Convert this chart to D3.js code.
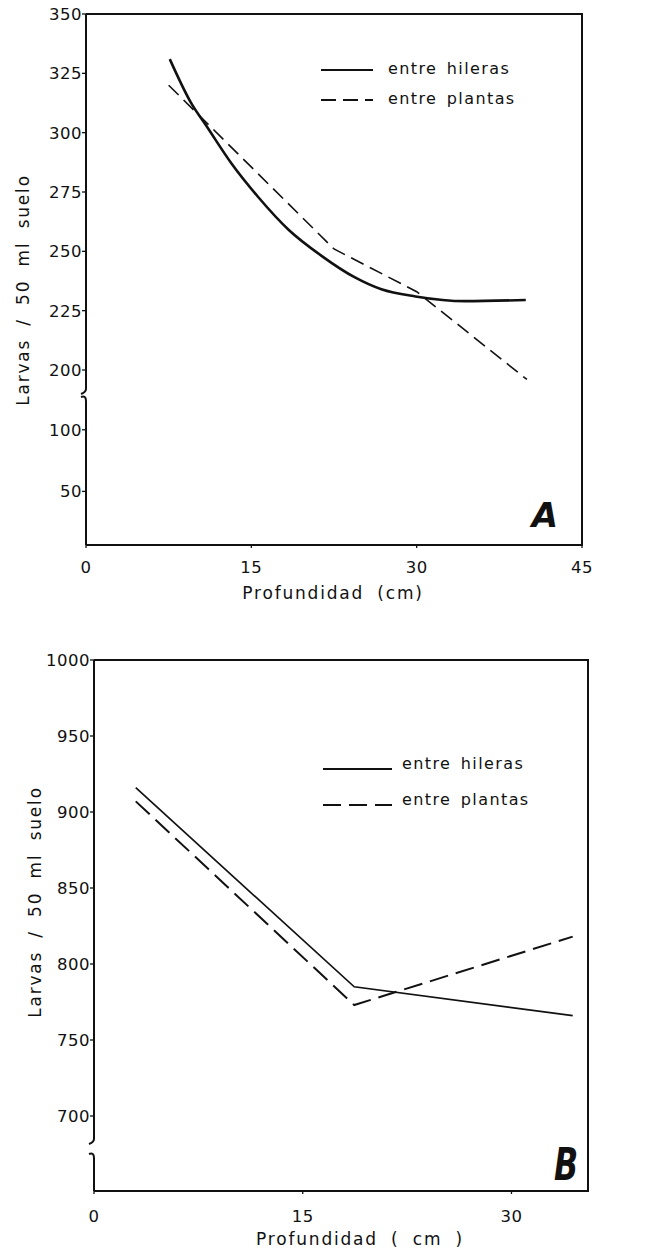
<!DOCTYPE html>
<html>
<head>
<meta charset="utf-8">
<script src="https://cdn.jsdelivr.net/npm/d3@7"></script>
<style>
  body { margin: 0; background: #fff; }
  svg { display: block; }
  text { font-family: "DejaVu Sans", sans-serif; fill: #111; }
  .tick-label { font-size: 16.5px; letter-spacing: 0.5px; }
  .axis-title { font-size: 17px; letter-spacing: 1.8px; word-spacing: 6px; }
  .legend-label { font-size: 16px; letter-spacing: 1.4px; word-spacing: 3px; }
  .panel-letter { font-size: 34px; font-weight: bold; font-style: italic; }
</style>
</head>
<body>
<div id="chart"></div>
<script>
// Panel A: depth (cm) vs larvae per 50 ml soil
var depthA_hileras  = [7.6, 9.6, 10.9, 13.2, 15.6, 18.4, 21.4, 24.4, 26.8, 29.9, 34.4, 39.9];
var larvasA_hileras = [331, 312, 303, 287, 273, 259, 248, 239, 234, 231, 229, 229.5];
var depthA_plantas  = [7.5, 22.5, 30, 40];
var larvasA_plantas = [320, 251, 233, 196];
var yTicksA_upper = [200, 225, 250, 275, 300, 325, 350];
var yTicksA_lower = [50, 100];
var xTicksA = [0, 15, 30, 45];

// Panel B
var depthB_hileras  = [3, 18.7, 34.4];
var larvasB_hileras = [916, 785, 766];
var depthB_plantas  = [3, 18.7, 34.4];
var larvasB_plantas = [907, 773, 818];
var yTicksB = [700, 750, 800, 850, 900, 950, 1000];
var xTicksB = [0, 15, 30];

var seriesNames = ["entre hileras", "entre plantas"];
var xTitleA = "Profundidad (cm)";
var xTitleB = "Profundidad ( cm )";
var yTitle = "Larvas / 50 ml suelo";

var W = 645, H = 1250;
var svg = d3.select("#chart").append("svg").attr("width", W).attr("height", H);

function zip(xs, ys) { return xs.map(function(x, i) { return [x, ys[i]]; }); }

// Draws one panel with a broken y axis (upper scale + lower scale).
function drawPanel(p) {
    var g = svg.append("g");
    var x = d3.scaleLinear().domain(p.xDomain).range([p.left, p.right]);
    var yU = d3.scaleLinear().domain(p.yUpperDomain).range(p.yUpperRange);
    var yL = d3.scaleLinear().domain(p.yLowerDomain).range(p.yLowerRange);

    // frame: top, right, bottom
    g.append("path")
        .attr("d", "M" + p.left + "," + p.top + "H" + p.right + "V" + p.bottom + "H" + p.left)
        .attr("fill", "none").attr("stroke", "#111").attr("stroke-width", 2);

    // broken left axis
    var bt = p.breakTop, bb = p.breakBottom, L = p.left;
    g.append("path")
        .attr("d", "M" + L + "," + p.top + "V" + (bt - 3) + "Q" + L + "," + bt + " " + (L - 5) + "," + (bt + 2))
        .attr("fill", "none").attr("stroke", "#111").attr("stroke-width", 2);
    g.append("path")
        .attr("d", "M" + (L - 5) + "," + (bb - 1) + "Q" + L + "," + (bb - 3) + " " + L + "," + (bb + 3) + "V" + p.bottom)
        .attr("fill", "none").attr("stroke", "#111").attr("stroke-width", 2);

    // y ticks
    function yTicks(scale, values) {
        var t = g.append("g").selectAll("g").data(values).enter().append("g")
            .attr("transform", function(d) { return "translate(0," + scale(d) + ")"; });
        t.append("line").attr("x1", L - 4).attr("x2", L).attr("stroke", "#111").attr("stroke-width", 1.3);
        t.append("text").attr("class", "tick-label")
            .attr("x", L - 4).attr("dy", "0.36em").attr("text-anchor", "end")
            .text(function(d) { return d; });
    }
    yTicks(yU, p.yTicksUpper);
    if (p.yTicksLower) yTicks(yL, p.yTicksLower);

    // x ticks
    var xt = g.append("g").selectAll("g").data(p.xTicks).enter().append("g")
        .attr("transform", function(d) { return "translate(" + x(d) + "," + p.bottom + ")"; });
    xt.append("line").attr("y1", 0).attr("y2", 3).attr("stroke", "#111").attr("stroke-width", 1.3);
    xt.append("text").attr("class", "tick-label")
        .attr("y", p.xTickBaseline - p.bottom).attr("text-anchor", "middle")
        .text(function(d) { return d; });

    // titles
    g.append("text").attr("class", "axis-title")
        .attr("x", p.xTitlePos[0]).attr("y", p.xTitlePos[1]).attr("text-anchor", "middle")
        .text(p.xTitle);
    g.append("text").attr("class", "axis-title")
        .attr("transform", "translate(" + p.yTitlePos[0] + "," + p.yTitlePos[1] + ") rotate(-90)")
        .attr("text-anchor", "middle").attr("dy", "0.36em")
        .text(yTitle);

    // series
    var line = d3.line()
        .x(function(d) { return x(d[0]); })
        .y(function(d) { return yU(d[1]); })
        .curve(p.curve);
    g.append("path").datum(p.solid).attr("d", line)
        .attr("fill", "none").attr("stroke", "#111").attr("stroke-width", p.solidWidth);
    g.append("path").datum(p.dashed).attr("d", d3.line()
            .x(function(d) { return x(d[0]); })
            .y(function(d) { return yU(d[1]); }))
        .attr("fill", "none").attr("stroke", "#111").attr("stroke-width", p.dashWidth)
        .attr("stroke-dasharray", p.dash);

    // legend
    var lg = p.legend;
    seriesNames.forEach(function(name, i) {
        var ly = lg.y + i * lg.dy;
        g.append("line")
            .attr("x1", lg.x).attr("x2", lg.x + lg.len).attr("y1", ly).attr("y2", ly)
            .attr("stroke", "#111").attr("stroke-width", i == 0 ? 2 : 1.8)
            .attr("stroke-dasharray", i == 0 ? null : lg.dash);
        g.append("text").attr("class", "legend-label")
            .attr("x", lg.x + lg.len + lg.gap).attr("y", ly + lg.textDy)
            .text(name);
    });

    // panel letter
    g.append("text").attr("class", "panel-letter")
        .attr("transform", "translate(" + p.letterPos[0] + "," + p.letterPos[1] + ") scale(" + p.letterScale + ",1)")
        .attr("text-anchor", "middle")
        .style("font-size", p.letterSize + "px")
        .text(p.letter);
}

drawPanel({
    left: 86, right: 582, top: 14, bottom: 545,
    breakTop: 392, breakBottom: 398,
    xDomain: [0, 45],
    yUpperDomain: [200, 350], yUpperRange: [370, 14],
    yLowerDomain: [0, 125], yLowerRange: [553, 399],
    yTicksUpper: yTicksA_upper, yTicksLower: yTicksA_lower,
    xTicks: xTicksA, xTickBaseline: 573,
    xTitle: xTitleA, xTitlePos: [333, 599],
    yTitlePos: [23, 290],
    solid: zip(depthA_hileras, larvasA_hileras), solidWidth: 2.6,
    dashed: zip(depthA_plantas, larvasA_plantas), dashWidth: 1.6, dash: "14,7",
    curve: d3.curveMonotoneX,
    legend: { x: 321, y: 70, dy: 30, len: 52, gap: 15, textDy: 4, dash: "15,7" },
    letter: "A", letterPos: [545, 527], letterSize: 34, letterScale: 1
});

drawPanel({
    left: 94, right: 588, top: 660, bottom: 1191,
    breakTop: 1142, breakBottom: 1155,
    xDomain: [0, 35.5],
    yUpperDomain: [700, 1000], yUpperRange: [1116, 660],
    yLowerDomain: [0, 24], yLowerRange: [1191, 1155],
    yTicksUpper: yTicksB, yTicksLower: null,
    xTicks: xTicksB, xTickBaseline: 1222,
    xTitle: xTitleB, xTitlePos: [360, 1245],
    yTitlePos: [35, 902],
    solid: zip(depthB_hileras, larvasB_hileras), solidWidth: 1.7,
    dashed: zip(depthB_plantas, larvasB_plantas), dashWidth: 2, dash: "19,8",
    curve: d3.curveLinear,
    legend: { x: 323, y: 769, dy: 36, len: 69, gap: 10, textDy: 0, dash: "18,8" },
    letter: "B", letterPos: [566, 1180], letterSize: 44, letterScale: 0.72
});
</script>
</body>
</html>
